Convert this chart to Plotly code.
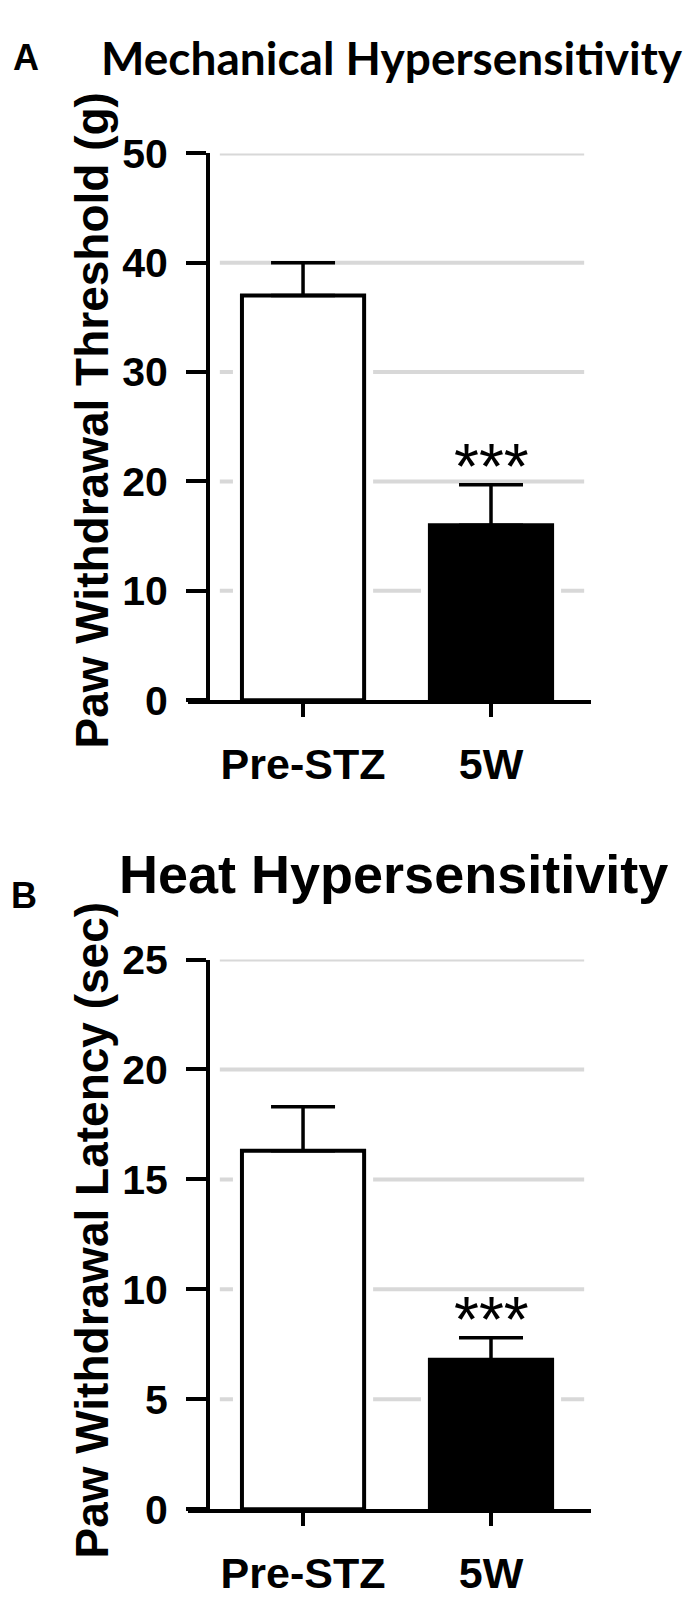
import plotly.graph_objects as go

categories = ["Pre-STZ", "5W"]
bar_colors = ["white", "black"]

mech_mean = [37.0, 16.0]
mech_sem = [3.0, 3.7]
mech_ticks = [0, 10, 20, 30, 40, 50]

heat_mean = [16.3, 6.8]
heat_sem = [2.0, 1.0]
heat_ticks = [0, 5, 10, 15, 20, 25]

sig_marks = ["", "***"]

W, H = 700, 1600
ARIAL = "Liberation Sans, Arial, sans-serif"

fig = go.Figure()


def add_panel(idx, means, sems):
    sfx = "" if idx == 1 else str(idx)
    # white halo so gridlines stop short of the bars
    fig.add_trace(go.Bar(
        x=categories, y=means, width=0.65, hoverinfo="skip",
        marker=dict(color="white", line=dict(color="white", width=18)),
        xaxis="x" + sfx, yaxis="y" + sfx, showlegend=False,
    ))
    fig.add_trace(go.Bar(
        x=categories, y=means, width=0.65,
        marker=dict(color=bar_colors, line=dict(color="black", width=4)),
        error_y=dict(type="data", array=sems, arrayminus=[0] * len(sems),
                     symmetric=False, color="black", thickness=3.5, width=32),
        xaxis="x" + sfx, yaxis="y" + sfx, showlegend=False,
    ))
    for cat, m, s, sig in zip(categories, means, sems, sig_marks):
        if sig:
            fig.add_annotation(x=cat, y=m + s, xref="x" + sfx, yref="y" + sfx,
                               text=sig, showarrow=False, yanchor="bottom", yshift=-20,
                               font=dict(family=ARIAL, size=64, color="black"))


add_panel(1, mech_mean, mech_sem)
add_panel(2, heat_mean, heat_sem)

x_dom = [180 / W, 583 / W]
y_pos = 200 / W
x_rng = [-0.612, 1.532]

axis_common = dict(showline=True, linecolor="black", linewidth=4, ticks="outside",
                   tickcolor="black", tickwidth=4, showgrid=False, zeroline=False)
xfont = dict(family=ARIAL, size=43, color="black", weight="bold")
yfont = dict(family=ARIAL, size=41, color="black", weight="bold")

fig.update_layout(
    width=W, height=H, margin=dict(l=0, r=0, t=0, b=0),
    plot_bgcolor="white", paper_bgcolor="white", barmode="overlay",
    xaxis=dict(domain=x_dom, anchor="y", range=x_rng, ticklen=13, tickfont=xfont,
               ticklabelstandoff=10, **axis_common),
    yaxis=dict(domain=[1 - 689 / H, 1 - 126 / H], anchor="free", position=y_pos,
               range=[0, 50], tickvals=mech_ticks, ticklen=20, tickfont=yfont,
               ticklabelstandoff=10, **axis_common),
    xaxis2=dict(domain=x_dom, anchor="y2", range=x_rng, ticklen=13, tickfont=xfont,
                ticklabelstandoff=10, **axis_common),
    yaxis2=dict(domain=[1 - 1522 / H, 1 - 956 / H], anchor="free", position=y_pos,
                range=[0, 25], tickvals=heat_ticks, ticklen=20, tickfont=yfont,
                ticklabelstandoff=10, **axis_common),
)

# light grey gridlines that stop short of the axes
for xref, yref, ticks in (("x domain", "y", mech_ticks), ("x2 domain", "y2", heat_ticks)):
    for t in ticks[1:]:
        fig.add_shape(type="line", xref=xref, yref=yref, x0=0.079, x1=0.983, y0=t, y1=t,
                      line=dict(color="#d8d8d8", width=4), layer="below")

# y axis titles
ytitle_font = dict(family=ARIAL, size=46, color="black", weight="bold")
fig.add_annotation(x=84 / W, y=1 - 401 / H, xref="paper", yref="paper", textangle=-90,
                   text="Paw Withdrawal Threshold (g)", showarrow=False, font=ytitle_font,
                   xanchor="center", yanchor="middle")
fig.add_annotation(x=84 / W, y=1 - 1235 / H, xref="paper", yref="paper", textangle=-90,
                   text="Paw Withdrawal Latency (sec)", showarrow=False, font=ytitle_font,
                   xanchor="center", yanchor="middle")

# panel titles and letters
fig.add_annotation(x=384 / W, y=1 - 27 / H, xref="paper", yref="paper",
                   text="Mechanical Hypersensitivity", showarrow=False,
                   xanchor="center", yanchor="middle",
                   font=dict(family="Lato, sans-serif", size=46, color="black", weight="bold"))
fig.add_annotation(x=386 / W, y=1 - 868 / H, xref="paper", yref="paper",
                   text="Heat Hypersensitivity", showarrow=False,
                   xanchor="center", yanchor="middle",
                   font=dict(family=ARIAL, size=54, color="black", weight="bold"))
fig.add_annotation(x=18 / W, y=1 - 27 / H, xref="paper", yref="paper", text="A",
                   showarrow=False, xanchor="center", yanchor="middle",
                   font=dict(family=ARIAL, size=36, color="black", weight="bold"))
fig.add_annotation(x=16 / W, y=1 - 890 / H, xref="paper", yref="paper", text="B",
                   showarrow=False, xanchor="center", yanchor="middle",
                   font=dict(family=ARIAL, size=36, color="black", weight="bold"))

fig.write_html("out.html")
